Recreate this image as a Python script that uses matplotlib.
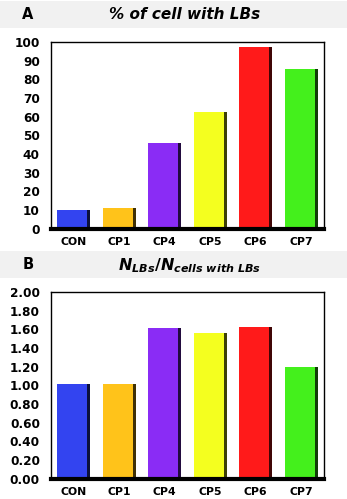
import matplotlib
matplotlib.use("Agg")
import matplotlib.pyplot as plt
import numpy as np
from matplotlib.patches import Rectangle

plt.rcParams["mathtext.fontset"] = "custom"
plt.rcParams["mathtext.it"] = "DejaVu Sans:bold:italic"
plt.rcParams["mathtext.rm"] = "DejaVu Sans:bold"
plt.rcParams["mathtext.bf"] = "DejaVu Sans:bold:italic"

categories = ["CON", "CP1", "CP4", "CP5", "CP6", "CP7"]
pct_cells = [10, 11, 46, 62.5, 97.5, 85.5]
ratio_lbs = [1.01, 1.01, 1.61, 1.56, 1.62, 1.20]
colors = ["#3344f0", "#ffc31a", "#8a2cf5", "#f4ff1f", "#ff1a1a", "#44f01c"]
ticks_a = list(range(0, 101, 10))
ticks_b = [0.0, 0.2, 0.4, 0.6, 0.8, 1.0, 1.2, 1.4, 1.6, 1.8, 2.0]

W, H = 347, 499
fig = plt.figure(figsize=(W / 100, H / 100), dpi=100)
fig.patch.set_facecolor("white")
FAM = "DejaVu Sans"

def px(x0, y0, w, h):
    return [x0 / W, 1 - (y0 + h) / H, w / W, h / H]

def band(y0, letter):
    bax = fig.add_axes(px(0, y0, W, 27))
    bax.set_xlim(0, 1); bax.set_ylim(0, 1)
    bax.add_patch(Rectangle((0, 0), 1, 1, color="#f1f1f1"))
    bax.axis("off")
    bax.text(28 / W, 0.5, letter, ha="center", va="center", fontsize=10.5,
             fontweight="bold", family=FAM)
    return bax

def panel(y0, vals, ticks, fmt, ymax):
    ax = fig.add_axes(px(51, y0, 273, 186.5))
    x = np.arange(len(categories))
    ax.bar(x, vals, width=0.72, color=colors, edgecolor="none", zorder=2)
    ax.bar(x + 0.33, vals, width=0.07, color="black", alpha=0.75,
           edgecolor="none", zorder=3)
    ax.set_xlim(-0.5, len(categories) - 0.5)
    ax.set_ylim(0, ymax)
    ax.set_yticks(ticks)
    ax.set_yticklabels([fmt(t) for t in ticks], fontsize=8.7, fontweight="bold",
                       family=FAM)
    ax.set_xticks(x)
    ax.set_xticklabels(categories, fontsize=7.8, fontweight="bold", family=FAM)
    ax.tick_params(axis="y", length=0, pad=8)
    ax.tick_params(axis="x", length=0, pad=6)
    for s in ["top", "right", "left"]:
        ax.spines[s].set_linewidth(1.0)
    ax.spines["bottom"].set_linewidth(3.0)
    ax.spines["bottom"].set_zorder(5)
    return ax

b1 = band(1, "A")
b1.text(185 / W, 0.5, "% of cell with LBs", ha="center", va="center",
        fontsize=11, fontweight="bold", fontstyle="italic", family=FAM)
panel(42, pct_cells, ticks_a, lambda t: f"{t:d}", 100)

b2 = band(251, "B")
b2.text(190 / W, 0.45,
        r"$N_{LBs}/N_{cells\ with\ LBs}$",
        ha="center", va="center", fontsize=11.5)
panel(292, ratio_lbs, ticks_b, lambda t: f"{t:.2f}", 2.0)

fig.savefig("out.png", dpi=100, facecolor="white")
